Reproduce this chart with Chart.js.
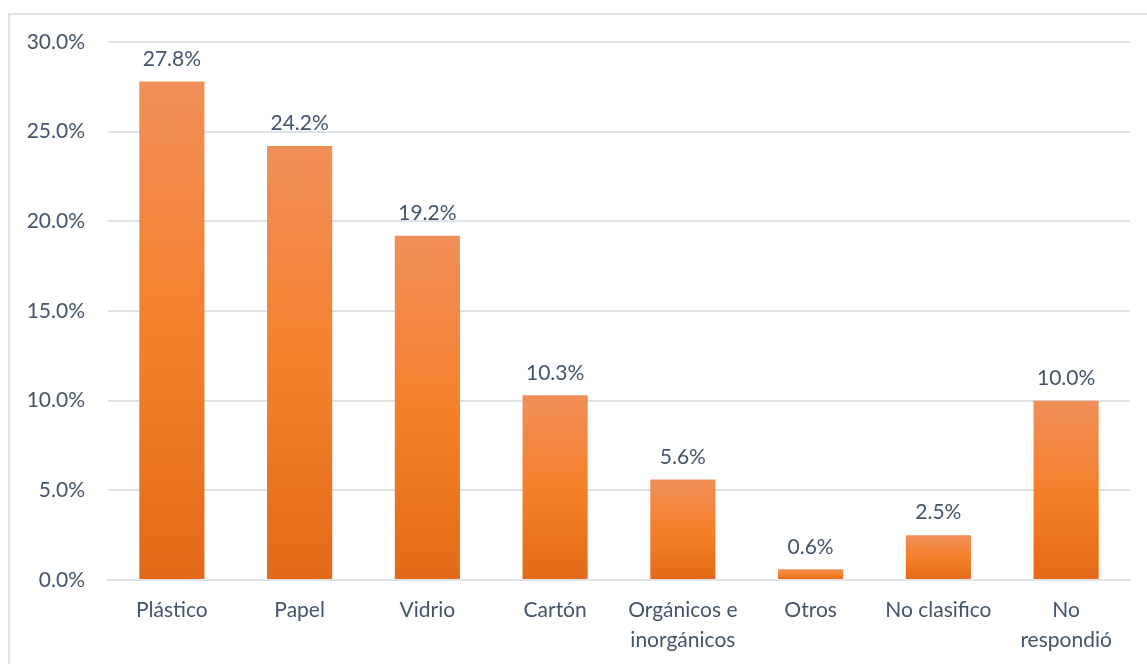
<!DOCTYPE html>
<html>
<head>
<meta charset="utf-8">
<script src="https://cdn.jsdelivr.net/npm/chart.js@4/dist/chart.umd.min.js"></script>
<style>
  html, body { margin: 0; padding: 0; background: #fff; overflow: hidden; }
  #wrap { position: absolute; left: 0; top: 0; width: 1147px; height: 664px; }
  #frame { position: absolute; left: 8px; top: 13px; width: 1150px; height: 670px; border: 2px solid #DEE3E9; box-sizing: border-box; }
</style>
</head>
<body>
<div id="wrap">
  <div id="frame"></div>
  <canvas id="grafica" width="1147" height="664"></canvas>
</div>
<script>
const categories = ['Plástico', 'Papel', 'Vidrio', 'Cartón', ['Orgánicos e', 'inorgánicos'], 'Otros', 'No clasifico', ['No', 'respondió']];
const percentages = [27.8, 24.2, 19.2, 10.3, 5.6, 0.6, 2.5, 10.0];
const yTicks = [0, 5, 10, 15, 20, 25, 30];

const textColor = '#44546A';
const gridColor = '#DEE3E9';
const fontFamily = 'Lato, "Open Sans", sans-serif';

// each bar gets its own vertical gradient, light on top, darker at the base
function barGradient(ctx) {
  const chart = ctx.chart;
  const y = chart.scales.y;
  if (!y || ctx.raw === undefined) return '#F47F2A';
  const top = y.getPixelForValue(ctx.raw);
  const bottom = y.getPixelForValue(0);
  if (!isFinite(top) || !isFinite(bottom) || top === bottom) return '#F47F2A';
  const g = chart.ctx.createLinearGradient(0, top, 0, bottom);
  g.addColorStop(0, '#F08F58');
  g.addColorStop(0.5, '#F5802B');
  g.addColorStop(1, '#E36A18');
  return g;
}

const valueLabels = {
  id: 'valueLabels',
  afterDatasetsDraw(chart) {
    const c = chart.ctx;
    const meta = chart.getDatasetMeta(0);
    c.save();
    c.fillStyle = textColor;
    c.font = '21px ' + fontFamily;
    c.textAlign = 'center';
    c.textBaseline = 'bottom';
    meta.data.forEach((bar, i) => {
      c.fillText(percentages[i].toFixed(1) + '%', bar.x, bar.y - 12);
    });
    c.restore();
  }
};

new Chart(document.querySelector('#grafica'), {
  type: 'bar',
  data: {
    labels: categories,
    datasets: [{
      data: percentages,
      backgroundColor: barGradient,
      borderWidth: 0,
      barPercentage: 0.51,
      categoryPercentage: 1
    }]
  },
  options: {
    responsive: false,
    animation: false,
    layout: { padding: { top: 42, right: 17, left: 0, bottom: 0 } },
    plugins: { legend: { display: false }, tooltip: { enabled: false } },
    scales: {
      x: {
        grid: { display: false, drawTicks: false },
        border: { color: gridColor, width: 2 },
        ticks: { color: textColor, font: { family: fontFamily, size: 21, lineHeight: 1.4 }, padding: 16, maxRotation: 0, autoSkip: false },
        afterFit(axis) { axis.height = 84; }
      },
      y: {
        min: 0,
        max: 30,
        afterBuildTicks(axis) { axis.ticks = yTicks.map(v => ({ value: v })); },
        grid: { color: gridColor, lineWidth: 2, drawTicks: false },
        border: { display: false },
        ticks: {
          color: textColor,
          font: { family: fontFamily, size: 21 },
          padding: 23,
          callback: v => v.toFixed(1) + '%'
        },
        afterFit(axis) { axis.width = 108; }
      }
    }
  },
  plugins: [valueLabels]
});
</script>
</body>
</html>
